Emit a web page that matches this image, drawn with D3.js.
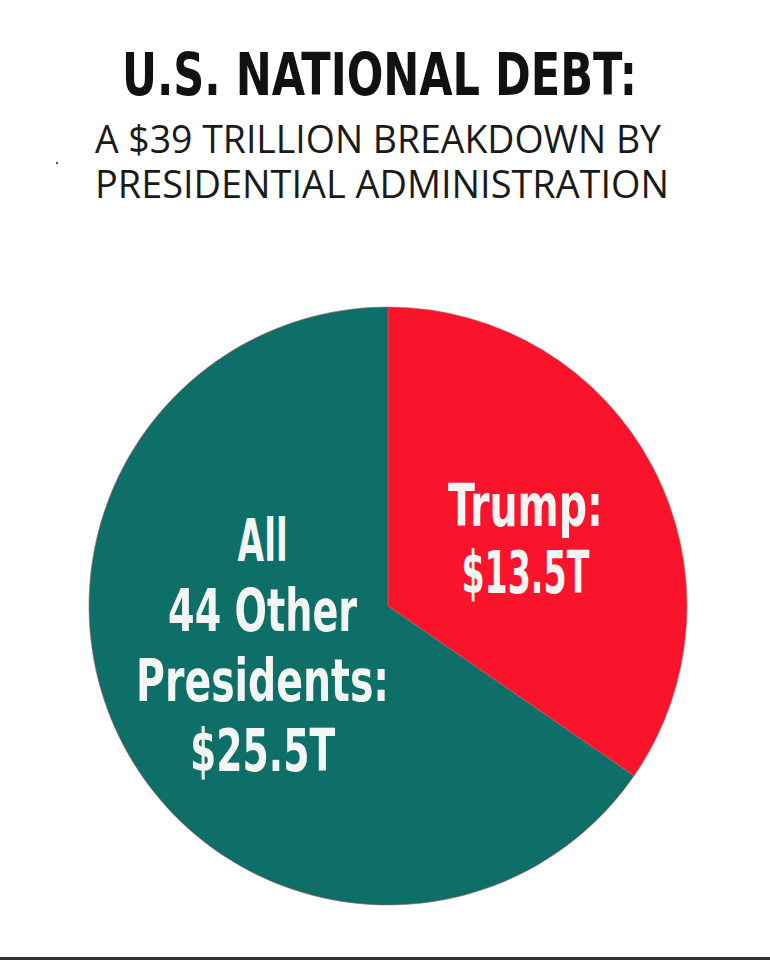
<!DOCTYPE html>
<html>
<head>
<meta charset="utf-8">
<script src="https://cdn.jsdelivr.net/npm/d3@7"></script>
<style>
  html, body { margin: 0; padding: 0; background: #fff; }
  svg { display: block; }
</style>
</head>
<body>
<script>
let width = 770;
let height = 960;

// data
let names = ["Trump", "All 44 Other Presidents"];
let values = [13.5, 25.5];
let colors = ["#f9132b", "#0e6e68"];
let labelLines = [["Trump:", "$13.5T"], ["All", "44 Other", "Presidents:", "$25.5T"]];
let labelWidths = [[155, 128], [50, 189, 253, 145]];

let svg = d3.select("body")
    .append("svg")
    .attr("width", width)
    .attr("height", height);

svg.append("rect")
    .attr("width", width)
    .attr("height", height)
    .attr("fill", "#fff");

// titles
svg.append("text")
    .attr("x", 122)
    .attr("y", 95)
    .attr("textLength", 515)
    .attr("lengthAdjust", "spacingAndGlyphs")
    .style("font-family", "'Liberation Sans Narrow', 'DejaVu Sans Condensed', sans-serif")
    .style("font-weight", "bold")
    .style("font-size", "59px")
    .attr("fill", "#111")
    .text("U.S. NATIONAL DEBT:");

let subtitle = ["A $39 TRILLION BREAKDOWN BY", "PRESIDENTIAL ADMINISTRATION"];
let subWidths = [566, 574];
svg.selectAll(".subtitle")
    .data(subtitle)
    .enter().append("text")
    .attr("class", "subtitle")
    .attr("x", 95)
    .attr("y", (d, i) => 153 + i * 45)
    .attr("textLength", (d, i) => subWidths[i])
    .attr("lengthAdjust", "spacingAndGlyphs")
    .style("font-family", "'Open Sans', 'Noto Sans', sans-serif")
    .style("font-size", "38px")
    .attr("fill", "#1a1a1a")
    .text(d => d);

// stray dot from the original
svg.append("circle")
    .attr("cx", 57)
    .attr("cy", 163)
    .attr("r", 1.2)
    .attr("fill", "#555");

// pie
let cx = 388, cy = 606, radius = 299;

let pie = d3.pie().sort(null).value(d => d.value);
let arc = d3.arc().innerRadius(0).outerRadius(radius);
let labelArc = d3.arc().innerRadius(radius * 0.5).outerRadius(radius * 0.5);

let data = names.map((n, i) => ({ name: n, value: values[i], i: i }));
let arcs = pie(data);

let g = svg.append("g").attr("transform", `translate(${cx},${cy})`);

g.selectAll(".slice")
    .data(arcs)
    .enter().append("path")
    .attr("class", "slice")
    .attr("d", arc)
    .attr("fill", d => colors[d.data.i])
    .attr("stroke", "#b86060")
    .attr("stroke-width", 0.6);

// labels, placed around the slice centroid
let lineGap = [67, 70];
let shift = [[5, 3], [7, -29]];

arcs.forEach(a => {
    let i = a.data.i;
    let c = labelArc.centroid(a);
    let lines = labelLines[i];
    let top = c[1] + shift[i][1] - (lines.length - 1) * lineGap[i] / 2 + 20;
    g.selectAll(".label" + i)
        .data(lines)
        .enter().append("text")
        .attr("class", "label" + i)
        .attr("x", c[0] + shift[i][0])
        .attr("y", (d, j) => top + j * lineGap[i])
        .attr("text-anchor", "middle")
        .attr("textLength", (d, j) => labelWidths[i][j])
        .attr("lengthAdjust", "spacingAndGlyphs")
        .style("font-family", "'Liberation Sans Narrow', 'DejaVu Sans Condensed', sans-serif")
        .style("font-weight", "bold")
        .style("font-size", "58px")
        .attr("fill", "#f4f6f4")
        .text(d => d);
});

// dark bottom edge
svg.append("rect")
    .attr("x", 0)
    .attr("y", height - 3)
    .attr("width", width)
    .attr("height", 3)
    .attr("fill", "#333");
</script>
</body>
</html>
